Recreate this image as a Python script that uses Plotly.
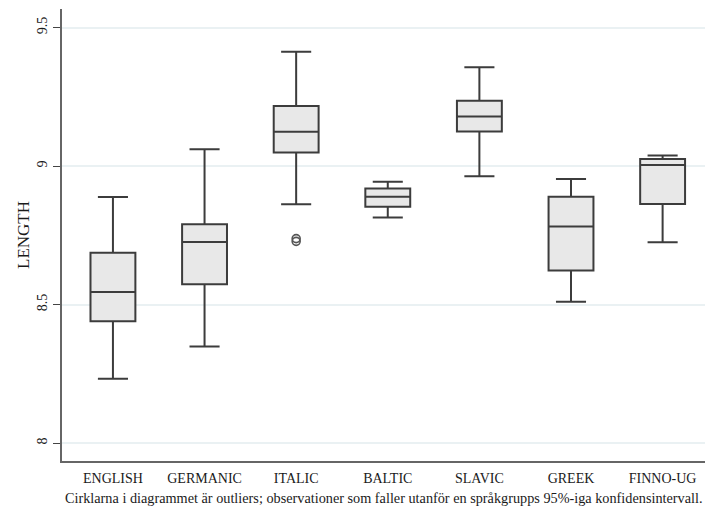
import plotly.graph_objects as go

categories = ["ENGLISH", "GERMANIC", "ITALIC", "BALTIC", "SLAVIC", "GREEK", "FINNO-UG"]
lower_whisker = [8.232, 8.348, 8.862, 8.814, 8.963, 8.510, 8.725]
q1_values = [8.440, 8.573, 9.049, 8.853, 9.125, 8.623, 8.863]
median_values = [8.545, 8.726, 9.124, 8.889, 9.179, 8.782, 9.004]
q3_values = [8.687, 8.790, 9.217, 8.919, 9.236, 8.889, 9.025]
upper_whisker = [8.888, 9.061, 9.413, 8.943, 9.357, 8.953, 9.038]
outlier_cats = ["ITALIC", "ITALIC"]
outlier_values = [8.728, 8.738]
y_ticks = [8, 8.5, 9, 9.5]
y_tick_labels = ["8", "8.5", "9", "9.5"]
caption = "Cirklarna i diagrammet är outliers; observationer som faller utanför en språkgrupps 95%-iga konfidensintervall."

SERIF = "Liberation Serif"
TXT = "#1a1a1a"

fig = go.Figure()
fig.add_trace(go.Box(
    x=categories,
    q1=q1_values, median=median_values, q3=q3_values,
    lowerfence=lower_whisker, upperfence=upper_whisker,
    fillcolor="#e8e8e8",
    line=dict(color="#3c3c3c", width=2),
    width=0.49,
    whiskerwidth=0.67,
    showlegend=False,
    hoverinfo="skip",
))
fig.add_trace(go.Scatter(
    x=outlier_cats, y=outlier_values, mode="markers",
    marker=dict(symbol="circle-open", size=8, color="#555555", line=dict(width=1.6)),
    showlegend=False, hoverinfo="skip",
))

fig.update_layout(
    width=705, height=498,
    margin=dict(l=54, r=0, t=1, b=45),
    plot_bgcolor="white", paper_bgcolor="white",
    font=dict(family=SERIF, color=TXT, size=14),
    xaxis=dict(
        type="category", categoryorder="array", categoryarray=categories,
        range=[-0.556, 6.55],
        showgrid=False, showline=True, linecolor="#666666", linewidth=2,
        ticks="", tickfont=dict(family=SERIF, size=14, color=TXT),
        ticklabelstandoff=3,
        zeroline=False,
    ),
    yaxis=dict(
        range=[7.935, 9.567],
        tickvals=y_ticks, ticktext=y_tick_labels, tickangle=-90,
        ticks="outside", ticklen=7, tickcolor="#444444", tickwidth=1,
        showline=True, linecolor="#666666", linewidth=2,
        showgrid=True, gridcolor="#eaf1f3", gridwidth=1.5,
        zeroline=False,
        tickfont=dict(family=SERIF, size=14, color=TXT),
        title=dict(text="LENGTH", font=dict(family=SERIF, size=17, color=TXT), standoff=1),
    ),
    annotations=[dict(
        text=caption, xref="paper", yref="paper", x=0, y=0, xanchor="left", yanchor="top",
        xshift=1, yshift=-27, showarrow=False, font=dict(family=SERIF, size=14.25, color=TXT),
    )],
)

fig.write_html("out.html")
